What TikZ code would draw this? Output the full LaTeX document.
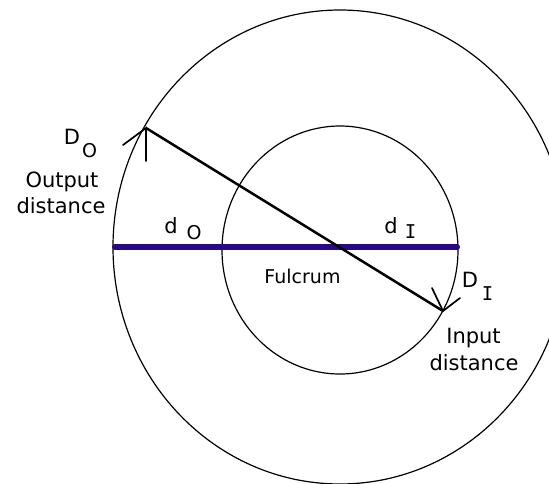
\documentclass[tikz,border=0pt]{standalone}
\usepackage{fontspec}
\setmainfont{DejaVu Sans}
\newfontfamily\monoI{DejaVu Sans Mono}
\definecolor{beam}{RGB}{40,8,135}
\begin{document}
\begin{tikzpicture}[x=1pt,y=-1pt,
  ring/.style={draw=black,line width=1.2pt},
  lever/.style={draw=black,line width=2.5pt},
  headline/.style={draw=black,line width=1.7pt,line cap=round},
  bar/.style={draw=beam,line width=6pt,line cap=round},
  lbl/.style={inner sep=0pt,anchor=base,font=\fontsize{21}{25}\selectfont},
  sub/.style={inner sep=0pt,anchor=base,font=\fontsize{19}{22}\selectfont},
  fulc/.style={inner sep=0pt,anchor=base,font=\fontsize{19}{22}\selectfont}]
\useasboundingbox (0,0) rectangle (549,483);
\clip (0,0) rectangle (549,483);
\fill[white] (0,0) rectangle (549,483);
% rings
\draw[ring] (340,247) ellipse [x radius=227pt, y radius=237pt];
\draw[ring] (340,250) ellipse [x radius=118pt, y radius=124pt];
% beam
\coordinate (bl) at (115,247);
\coordinate (br) at (457,247);
\draw[bar] (bl) -- (br);
% lever
\coordinate (out) at (146,128);
\coordinate (in) at (443,311);
\draw[lever] (out) -- (in);
% arrow heads
\coordinate (oh1) at (146,161);
\coordinate (oh2) at (123,145);
\draw[headline] (oh1) -- (out) -- (oh2);
\coordinate (ih1) at (432,288);
\coordinate (ih2) at (460,298);
\draw[headline] (ih1) -- (in) -- (ih2);
% labels
\node[lbl] (DO) at (72,144) {D};
\node[sub] (DOs) at (89.5,157) {O};
\node[lbl] (out1) at (62,187) {Output};
\node[lbl] (out2) at (61,213) {distance};
\node[lbl] (dO) at (171,233) {d};
\node[sub] (dOs) at (194,239) {O};
\node[lbl] (dI) at (391,233) {d};
\node[sub] (dIs) at (410.5,238) {\monoI I};
\node[lbl] (DI) at (470,287) {D};
\node[sub] (DIs) at (487.5,300) {\monoI I};
\node[lbl] (in1) at (473.5,343) {Input};
\node[lbl] (in2) at (474,370) {distance};
\node[fulc] (F) at (302.5,283) {Fulcrum};
\end{tikzpicture}
\end{document}
